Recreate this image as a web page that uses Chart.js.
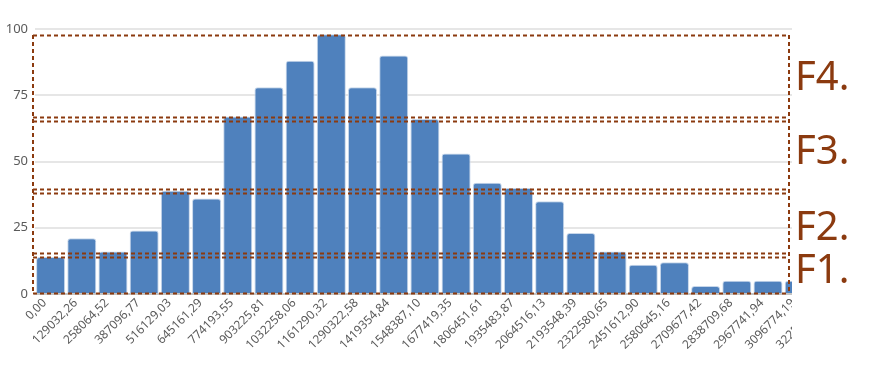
<!DOCTYPE html>
<html>
<head>
<meta charset="utf-8">
<script src="https://cdn.jsdelivr.net/npm/chart.js@4/dist/chart.umd.min.js"></script>
<style>
  html, body { margin: 0; padding: 0; background: #fff; }
  #wrap { width: 869px; height: 387px; position: relative; }
</style>
</head>
<body>
<div id="wrap"><canvas id="hist" width="869" height="387"></canvas></div>
<script>
/* ── data ── */
const binLabels = [
  '0,00', '129032,26', '258064,52', '387096,77', '516129,03', '645161,29',
  '774193,55', '903225,81', '1032258,06', '1161290,32', '1290322,58', '1419354,84',
  '1548387,10', '1677419,35', '1806451,61', '1935483,87', '2064516,13', '2193548,39',
  '2322580,65', '2451612,90', '2580645,16', '2709677,42', '2838709,68', '2967741,94',
  '3096774,19', '3225806,45'
];
const counts = [
  14, 21, 16, 24, 39, 36, 67, 78, 88, 98, 78, 90, 66,
  53, 42, 40, 35, 23, 16, 11, 12, 3, 5, 5, 5, 3
];
const yTicks = [0, 25, 50, 75, 100];

/* annotation bands (value ranges), their names and where each name sits */
const zoneNames   = ['F1.', 'F2.', 'F3.', 'F4.'];
const zoneLow     = [0.4, 15.5, 39.8, 66.9];
const zoneHigh    = [13.8, 38.3, 65.4, 97.7];
const zoneLabelAt = [4.0, 20.2, 49.0, 77.0];   // baseline of the name, in counts

const BROWN = '#8b3a0f';
const CLIP_X = 792;   // picture is cut off on the right here

/* white out the cut-off part, then draw the dashed bands and labels */
const zonePlugin = {
  id: 'zones',
  afterDraw(chart) {
    const { ctx, chartArea, scales } = chart;
    const y = scales.y;
    ctx.save();
    ctx.fillStyle = '#fff';
    ctx.fillRect(CLIP_X, 0, chart.width - CLIP_X, chart.height);

    const x0 = chartArea.left - 2, x1 = CLIP_X - 3;
    ctx.strokeStyle = BROWN;
    ctx.lineWidth = 2;
    ctx.setLineDash([4, 3]);
    ctx.beginPath();
    zoneLow.forEach((lo, i) => {
      [lo, zoneHigh[i]].forEach(v => {
        const py = Math.round(y.getPixelForValue(v)) + 0.5;
        ctx.moveTo(x0, py); ctx.lineTo(x1, py);
      });
    });
    const top = y.getPixelForValue(zoneHigh[zoneHigh.length - 1]);
    const bot = y.getPixelForValue(zoneLow[0]);
    ctx.moveTo(x0, top); ctx.lineTo(x0, bot);
    ctx.moveTo(x1, top); ctx.lineTo(x1, bot);
    ctx.stroke();
    ctx.setLineDash([]);

    ctx.fillStyle = BROWN;
    ctx.font = '40px "Noto Sans"';
    ctx.textAlign = 'left';
    ctx.textBaseline = 'alphabetic';
    zoneNames.forEach((name, i) => {
      ctx.fillText(name, CLIP_X + 3, y.getPixelForValue(zoneLabelAt[i]));
    });
    ctx.restore();
  },
};

new Chart(document.getElementById('hist'), {
  type: 'bar',
  data: {
    labels: binLabels,
    datasets: [{
      data: counts,
      backgroundColor: '#4f81bd',
      borderColor: '#c6d6ea',
      borderWidth: 1,
      borderRadius: { topLeft: 3, topRight: 3 },
      categoryPercentage: 1,
      barPercentage: 0.93,
    }],
  },
  options: {
    responsive: false,
    animation: false,
    layout: { padding: { top: 29, right: 23, left: 0, bottom: 0 } },
    plugins: { legend: { display: false }, tooltip: { enabled: false } },
    scales: {
      x: {
        grid: { display: false, drawTicks: false },
        border: { display: true, color: '#c4c4c4', width: 2 },
        ticks: {
          autoSkip: false, minRotation: 45, maxRotation: 45, padding: 2, labelOffset: -6,
          color: '#5a5a5a', font: { family: 'Noto Sans', size: 12 },
        },
        afterFit(scale) { scale.height = 93; },
      },
      y: {
        min: 0, max: 100,
        afterBuildTicks(scale) { scale.ticks = yTicks.map(v => ({ value: v })); },
        grid: { color: '#e6e6e6', lineWidth: 2, drawTicks: false },
        border: { display: false },
        ticks: {
          padding: 7, color: '#5a5a5a', font: { family: 'Noto Sans', size: 13 },
        },
        afterFit(scale) { scale.width = 35; },
      },
    },
  },
  plugins: [zonePlugin],
});
</script>
</body>
</html>
